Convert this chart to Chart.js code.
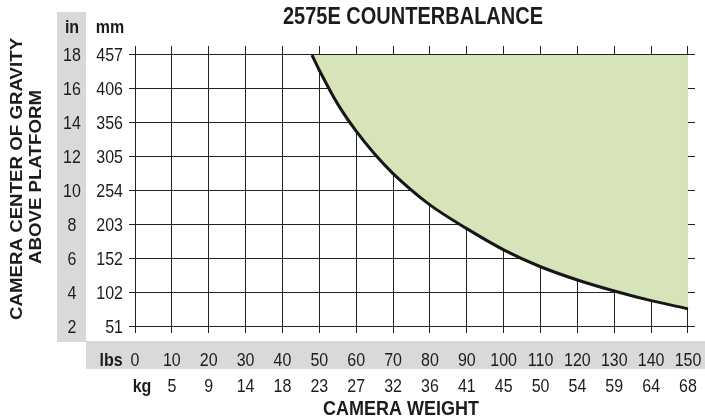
<!DOCTYPE html>
<html>
<head>
<meta charset="utf-8">
<script src="https://cdn.jsdelivr.net/npm/chart.js@4.4.1/dist/chart.umd.min.js"></script>
<style>
  body { margin: 0; background: #fff; }
  #wrap { width: 705px; height: 417px; }
</style>
</head>
<body>
<div id="wrap"><canvas id="cg" width="705" height="417"></canvas></div>
<script>
// data
var weightLbs = [48, 50, 55, 60, 65, 70, 80, 90, 100, 110, 120, 130, 140, 150];
var cogIn     = [18, 17.1, 15.1, 13.5, 12.15, 11.0, 9.15, 7.75, 6.5, 5.5, 4.72, 4.07, 3.5, 3.02];

var lbsTicks = [0, 10, 20, 30, 40, 50, 60, 70, 80, 90, 100, 110, 120, 130, 140, 150];
var kgLabels = ['kg', '5', '9', '14', '18', '23', '27', '32', '36', '41', '45', '50', '54', '59', '64', '68'];
var inTicks  = [2, 4, 6, 8, 10, 12, 14, 16, 18];
var mmLabels = ['51', '102', '152', '203', '254', '305', '356', '406', '457'];

var SY = 1.15; // text in the picture is a bit taller than normal
var FONT = '"Liberation Sans", Arial, sans-serif';
var INK = '#1c1c1c';

function txt(ctx, s, x, y, font, align) {
  ctx.save();
  ctx.font = font;
  ctx.textAlign = align;
  ctx.textBaseline = 'alphabetic';
  ctx.fillStyle = INK;
  ctx.translate(x, y);
  ctx.scale(1, SY);
  ctx.fillText(s, 0, 0);
  ctx.restore();
}

function vtxt(ctx, s, x, y, font) {
  ctx.save();
  ctx.font = font;
  ctx.textAlign = 'center';
  ctx.textBaseline = 'alphabetic';
  ctx.fillStyle = INK;
  ctx.translate(x, y);
  ctx.rotate(-Math.PI / 2);
  ctx.scale(1.1, 1);
  ctx.fillText(s, 0, 0);
  ctx.restore();
}

var labelsPlugin = {
  id: 'labels',
  beforeDraw: function (chart) {
    var ctx = chart.ctx;
    ctx.save();
    ctx.fillStyle = '#d9d9d9';
    ctx.fillRect(57, 12, 29, 330);
    ctx.fillRect(86, 341, 619, 28);
    ctx.restore();
  },
  afterDraw: function (chart) {
    var ctx = chart.ctx;
    var xs = chart.scales.x, ys = chart.scales.y;
    var f = '16px ' + FONT, fb = 'bold 16px ' + FONT;

    txt(ctx, 'in', 72, 33, fb, 'center');
    txt(ctx, 'mm', 110, 33, fb, 'center');
    inTicks.forEach(function (v, i) {
      var py = ys.getPixelForValue(v) + 6.5;
      txt(ctx, String(v), 72, py, f, 'center');
      txt(ctx, mmLabels[i], 123, py, f, 'right');
    });

    txt(ctx, 'lbs', 111, 366, fb, 'center');
    lbsTicks.forEach(function (v, i) {
      var px = xs.getPixelForValue(v);
      txt(ctx, String(v), px, 366, f, 'center');
      if (i === 0) {
        txt(ctx, kgLabels[i], px + 7, 392, fb, 'center');
      } else {
        txt(ctx, kgLabels[i], px, 392, f, 'center');
      }
    });

    txt(ctx, '2575E COUNTERBALANCE', 413, 24, 'bold 20px ' + FONT, 'center');
    txt(ctx, 'CAMERA WEIGHT', 401, 415, 'bold 18px ' + FONT, 'center');
    vtxt(ctx, 'CAMERA CENTER OF GRAVITY', 22, 179, 'bold 17px ' + FONT);
    vtxt(ctx, 'ABOVE PLATFORM', 41, 177, 'bold 17px ' + FONT);
  }
};

var pts = weightLbs.map(function (w, i) { return { x: w, y: cogIn[i] }; });

var chart = new Chart(document.getElementById('cg').getContext('2d'), {
  type: 'line',
  data: {
    datasets: [{
      data: pts,
      borderColor: '#161616',
      borderWidth: 3,
      pointRadius: 0,
      cubicInterpolationMode: 'monotone',
      fill: { value: 18 },
      backgroundColor: '#d7e4b9'
    }]
  },
  plugins: [labelsPlugin],
  options: {
    responsive: false,
    animation: false,
    events: [],
    layout: { padding: { left: 129, right: 10, top: 46, bottom: 84 } },
    plugins: {
      legend: { display: false },
      tooltip: { enabled: false }
    },
    scales: {
      x: {
        type: 'linear',
        min: -1.63,
        max: 151.9,
        z: 1,
        afterBuildTicks: function (scale) {
          scale.ticks = lbsTicks.map(function (v) { return { value: v }; });
        },
        ticks: { display: false },
        border: { display: false },
        grid: { color: '#222', lineWidth: 1, drawTicks: false }
      },
      y: {
        min: 1.59,
        max: 18.53,
        z: 1,
        afterBuildTicks: function (scale) {
          scale.ticks = inTicks.map(function (v) { return { value: v }; });
        },
        ticks: { display: false },
        border: { display: false },
        grid: { color: '#222', lineWidth: 1, drawTicks: false }
      }
    }
  }
});
</script>
</body>
</html>
